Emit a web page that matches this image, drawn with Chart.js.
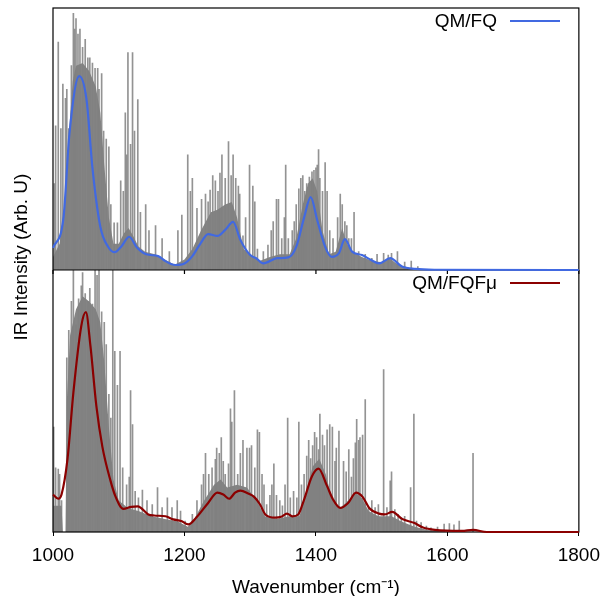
<!DOCTYPE html>
<html>
<head>
<meta charset="utf-8">
<script src="https://cdn.jsdelivr.net/npm/chart.js@4.4.1/dist/chart.umd.min.js"></script>
<style>
  html, body { margin: 0; padding: 0; background: #fff; }
  #wrap { width: 608px; height: 596px; }
</style>
</head>
<body>
<div id="wrap"><canvas id="irChart" width="608" height="596"></canvas></div>
<script>
// x axis
var xTicks = [1000, 1200, 1400, 1600, 1800];

// QM/FQ (top panel) - stick spectrum
var fqStickWn = [1002, 1004, 1008, 1012, 1015, 1019, 1021, 1024, 1028, 1031, 1033, 1035, 1038, 1041, 1045, 1049,
  1053, 1056, 1060, 1064, 1068, 1070, 1074, 1077, 1081, 1085, 1088, 1093, 1098, 1103, 1107, 1110, 1112, 1114,
  1118, 1121, 1124, 1129, 1133, 1141, 1146, 1156, 1166, 1177, 1190, 1196, 1205, 1209, 1212, 1219, 1226, 1232,
  1236, 1239, 1243, 1247, 1251, 1254, 1257, 1262, 1267, 1271, 1274, 1278, 1282, 1284, 1289, 1293, 1299, 1304,
  1307, 1311, 1320, 1327, 1332, 1335, 1340, 1343, 1348, 1352, 1354, 1358, 1364, 1367, 1370, 1374, 1377, 1380,
  1383, 1386, 1390, 1394, 1397, 1400, 1402, 1404, 1406, 1410, 1414, 1417, 1421, 1426, 1433, 1437, 1440, 1444,
  1447, 1450, 1454, 1458, 1465, 1475, 1485, 1493, 1503, 1510, 1515, 1524, 1535, 1545, 1555];
var fqStickInt = [0.33, 0.55, 0.87, 0.54, 0.71, 0.655, 0.69, 0.54, 0.78, 0.98, 0.92, 0.96, 0.90, 0.92, 0.85, 0.88,
  0.81, 0.81, 0.79, 0.77, 0.77, 0.69, 0.75, 0.53, 0.50, 0.47, 0.25, 0.18, 0.18, 0.34, 0.30, 0.60, 0.44, 0.83,
  0.48, 0.83, 0.53, 0.65, 0.22, 0.25, 0.15, 0.17, 0.12, 0.07, 0.15, 0.21, 0.44, 0.30, 0.35, 0.235, 0.27, 0.29,
  0.26, 0.305, 0.36, 0.34, 0.30, 0.37, 0.44, 0.35, 0.49, 0.36, 0.44, 0.35, 0.32, 0.29, 0.13, 0.20, 0.40, 0.32,
  0.26, 0.08, 0.07, 0.095, 0.15, 0.185, 0.27, 0.27, 0.12, 0.20, 0.40, 0.12, 0.15, 0.185, 0.25, 0.31, 0.35, 0.36,
  0.30, 0.33, 0.355, 0.375, 0.38, 0.39, 0.40, 0.46, 0.35, 0.30, 0.41, 0.30, 0.15, 0.12, 0.20, 0.29, 0.25, 0.185,
  0.17, 0.12, 0.12, 0.22, 0.07, 0.06, 0.045, 0.06, 0.064, 0.057, 0.064, 0.07, 0.03, 0.034, 0.013];

// QM/FQ - dense part of the sticks
var fqBodyWn = [1000, 1010, 1020, 1025, 1030, 1035, 1045, 1055, 1065, 1072, 1078, 1085, 1092, 1100, 1108, 1115,
  1122, 1130, 1140, 1155, 1170, 1185, 1200, 1212, 1225, 1240, 1250, 1262, 1272, 1280, 1290, 1300, 1315, 1330,
  1345, 1360, 1370, 1380, 1388, 1395, 1402, 1410, 1420, 1430, 1440, 1447, 1455, 1470, 1485, 1500, 1512, 1525,
  1540, 1555];
var fqBodyInt = [0.05, 0.1, 0.3, 0.55, 0.72, 0.78, 0.79, 0.76, 0.70, 0.6, 0.4, 0.2, 0.1, 0.1, 0.14, 0.16,
  0.13, 0.09, 0.07, 0.06, 0.04, 0.02, 0.04, 0.08, 0.15, 0.22, 0.23, 0.25, 0.26, 0.2, 0.08, 0.06, 0.035, 0.05,
  0.06, 0.06, 0.12, 0.25, 0.33, 0.35, 0.3, 0.15, 0.06, 0.07, 0.16, 0.1, 0.07, 0.05, 0.035, 0.03, 0.045, 0.02,
  0.01, 0];

// QM/FQ - broadened spectrum
var fqCurveWn = [1000, 1016, 1025, 1040, 1051, 1060, 1072, 1084, 1094, 1104, 1116, 1127, 1142, 1160, 1171, 1186,
  1200, 1212, 1224, 1236, 1250, 1262, 1274, 1285, 1300, 1309, 1320, 1341, 1358, 1370, 1382, 1392, 1402, 1414,
  1424, 1435, 1444, 1455, 1470, 1484, 1496, 1513, 1531, 1551, 1580, 1800];
var fqCurveInt = [0.084, 0.20, 0.52, 0.74, 0.65, 0.39, 0.165, 0.088, 0.068, 0.09, 0.127, 0.088, 0.06, 0.053, 0.034, 0.019,
  0.025, 0.053, 0.10, 0.137, 0.13, 0.153, 0.184, 0.115, 0.057, 0.045, 0.025, 0.045, 0.048, 0.088, 0.20, 0.278, 0.19, 0.088,
  0.05, 0.064, 0.118, 0.07, 0.057, 0.038, 0.025, 0.045, 0.013, 0.004, 0.001, 0];

// QM/FQFmu (bottom panel) - stick spectrum
var fqfmuStickWn = [1001, 1004, 1008, 1010, 1013, 1021, 1024, 1028, 1031, 1035, 1039, 1043, 1045, 1049, 1053, 1056,
  1060, 1064, 1067, 1070, 1074, 1078, 1081, 1085, 1088, 1091, 1094, 1098, 1102, 1106, 1112, 1116, 1118, 1121,
  1125, 1130, 1136, 1143, 1151, 1159, 1166, 1174, 1181, 1189, 1194, 1201, 1212, 1219, 1226, 1229, 1232, 1237,
  1242, 1247, 1249, 1253, 1256, 1259, 1262, 1267, 1270, 1272, 1276, 1281, 1285, 1289, 1295, 1299, 1302, 1307,
  1311, 1314, 1318, 1321, 1325, 1330, 1333, 1336, 1340, 1345, 1349, 1353, 1357, 1361, 1366, 1371, 1374, 1378,
  1382, 1386, 1389, 1392, 1395, 1398, 1401, 1404, 1406, 1410, 1413, 1417, 1421, 1425, 1429, 1431, 1435, 1442,
  1446, 1450, 1454, 1457, 1460, 1462, 1465, 1467, 1471, 1475, 1480, 1485, 1490, 1495, 1503, 1508, 1513, 1515,
  1520, 1525, 1530, 1535, 1544, 1549, 1553, 1560, 1568, 1575, 1585, 1595, 1603, 1610, 1618, 1639];
var fqfmuStickInt = [0.40, 0.245, 0.24, 0.22, 0.12, 0.665, 0.77, 0.88, 1.0, 0.79, 0.89, 0.94, 0.99, 0.91, 0.88, 0.93,
  0.87, 1.0, 0.98, 1.0, 0.84, 0.80, 0.715, 0.525, 0.435, 1.0, 0.69, 0.56, 0.69, 0.245, 0.18, 0.21, 0.54, 0.41,
  0.155, 0.13, 0.16, 0.12, 0.105, 0.17, 0.093, 0.13, 0.093, 0.12, 0.08, 0.042, 0.067, 0.12, 0.18, 0.22, 0.30, 0.22,
  0.245, 0.277, 0.32, 0.30, 0.36, 0.27, 0.22, 0.26, 0.47, 0.42, 0.54, 0.22, 0.30, 0.35, 0.32, 0.32, 0.33, 0.245,
  0.39, 0.38, 0.22, 0.18, 0.105, 0.14, 0.18, 0.26, 0.14, 0.12, 0.10, 0.18, 0.435, 0.13, 0.155, 0.13, 0.42, 0.18,
  0.22, 0.29, 0.35, 0.28, 0.33, 0.38, 0.36, 0.315, 0.45, 0.37, 0.33, 0.39, 0.41, 0.40, 0.27, 0.32, 0.385, 0.27,
  0.23, 0.315, 0.21, 0.28, 0.34, 0.43, 0.35, 0.36, 0.37, 0.505, 0.093, 0.12, 0.093, 0.105, 0.62, 0.093, 0.195, 0.23,
  0.086, 0.067, 0.055, 0.06, 0.17, 0.45, 0.042, 0.036, 0.023, 0.016, 0.019, 0.03, 0.032, 0.027, 0.042, 0.30];

// QM/FQFmu - dense part of the sticks
var fqfmuBodyWn = [1000, 1013, 1015, 1019, 1021, 1026, 1035, 1045, 1055, 1065, 1072, 1078, 1085, 1092, 1100, 1115,
  1130, 1150, 1170, 1190, 1205, 1215, 1230, 1245, 1255, 1265, 1280, 1295, 1310, 1322, 1340, 1360, 1375, 1385,
  1395, 1405, 1415, 1425, 1435, 1445, 1460, 1470, 1480, 1495, 1515, 1530, 1550, 1570, 1590, 1600];
var fqfmuBodyInt = [0.1, 0.1, 0, 0, 0.5, 0.75, 0.85, 0.9, 0.88, 0.85, 0.8, 0.65, 0.4, 0.2, 0.12, 0.09,
  0.08, 0.06, 0.05, 0.04, 0.02, 0.05, 0.12, 0.18, 0.2, 0.17, 0.18, 0.17, 0.12, 0.06, 0.05, 0.06, 0.06, 0.15,
  0.25, 0.28, 0.22, 0.12, 0.09, 0.11, 0.15, 0.13, 0.08, 0.06, 0.06, 0.04, 0.02, 0.008, 0.005, 0];

// QM/FQFmu - broadened spectrum
var fqfmuCurveWn = [1000, 1008, 1013, 1022, 1031, 1043, 1050, 1057, 1066, 1075, 1087, 1095, 1107, 1119, 1129, 1145,
  1154, 1171, 1183, 1195, 1206, 1218, 1236, 1250, 1259, 1268, 1277, 1285, 1297, 1306, 1315, 1323, 1338, 1347,
  1356, 1364, 1373, 1382, 1394, 1404, 1417, 1426, 1437, 1449, 1461, 1471, 1481, 1496, 1505, 1516, 1531, 1549,
  1563, 1581, 1622, 1639, 1660, 1800];
var fqfmuCurveInt = [0.143, 0.127, 0.143, 0.277, 0.532, 0.786, 0.839, 0.709, 0.48, 0.327, 0.20, 0.136, 0.088, 0.096, 0.098, 0.067,
  0.063, 0.06, 0.048, 0.042, 0.029, 0.055, 0.111, 0.15, 0.143, 0.127, 0.15, 0.158, 0.147, 0.134, 0.105, 0.067, 0.055, 0.058,
  0.07, 0.06, 0.067, 0.124, 0.213, 0.242, 0.175, 0.124, 0.092, 0.111, 0.15, 0.134, 0.092, 0.07, 0.067, 0.077, 0.05, 0.035,
  0.017, 0.008, 0.004, 0.008, 0, 0];

var fontFamily = '"Liberation Sans", Arial, Helvetica, sans-serif';

function pts(xs, ys) {
  return xs.map(function(x, i) { return { x: x, y: ys[i] }; });
}

// frame, legend entries and the shared y title
var panelDeco = {
  id: 'panelDeco',
  beforeDraw: function(chart) { chart.$frameDone = false; },
  beforeDatasetDraw: function(chart, args) {
    var ds = chart.data.datasets[args.index];
    if (ds.isCurve && !chart.$frameDone) {
      chart.$frameDone = true;
      var ctx = chart.ctx, a = chart.chartArea;
      var x = chart.scales.x, sep = chart.scales.yTop.bottom;
      ctx.save();
      ctx.strokeStyle = '#000';
      ctx.lineWidth = 1.2;
      ctx.strokeRect(a.left, a.top, a.right - a.left, a.bottom - a.top);
      ctx.beginPath();
      ctx.moveTo(a.left, sep);
      ctx.lineTo(a.right, sep);
      xTicks.forEach(function(v) {
        var px = x.getPixelForValue(v);
        ctx.moveTo(px, sep);
        ctx.lineTo(px, sep + 4);
      });
      ctx.stroke();
      ctx.restore();
    }
  },
  afterDatasetsDraw: function(chart) {
    var ctx = chart.ctx;
    ctx.save();
    ctx.font = '19px ' + fontFamily;
    ctx.fillStyle = '#000';
    ctx.textAlign = 'right';
    ctx.textBaseline = 'middle';
    chart.data.datasets.forEach(function(ds) {
      if (!ds.isCurve) return;
      var sc = chart.scales[ds.yAxisID];
      var y = sc.top + 13;
      ctx.fillText(ds.label, 497, y + 1);
      ctx.strokeStyle = ds.borderColor;
      ctx.lineWidth = 2.2;
      ctx.beginPath();
      ctx.moveTo(510, y);
      ctx.lineTo(560, y);
      ctx.stroke();
    });
    ctx.translate(22, 257);
    ctx.rotate(-Math.PI / 2);
    ctx.textAlign = 'center';
    ctx.fillText('IR Intensity (Arb. U)', 0, 0);
    ctx.restore();
  }
};

function yPanel() {
  return {
    type: 'linear', position: 'left', stack: 'ir', stackWeight: 1,
    min: 0, max: 1,
    grid: { display: false }, ticks: { display: false }, border: { display: false },
    afterFit: function(s) { s.width = 0; }
  };
}

new Chart(document.getElementById('irChart'), {
  type: 'bar',
  data: {
    datasets: [
      { type: 'line', label: 'QM/FQ', isCurve: true, data: pts(fqCurveWn, fqCurveInt), yAxisID: 'yTop',
        borderColor: '#4169e1', borderWidth: 2.2, pointRadius: 0, cubicInterpolationMode: 'monotone', order: 0, clip: 4 },
      { type: 'line', label: 'QM/FQF\u03bc', isCurve: true, data: pts(fqfmuCurveWn, fqfmuCurveInt), yAxisID: 'yBot',
        borderColor: '#8b0000', borderWidth: 2.2, pointRadius: 0, cubicInterpolationMode: 'monotone', order: 0, clip: 4 },
      { label: 'fq sticks', data: pts(fqStickWn, fqStickInt), yAxisID: 'yTop',
        backgroundColor: 'rgba(128,128,128,0.85)', barThickness: 1, grouped: false, order: 1 },
      { label: 'fqfmu sticks', data: pts(fqfmuStickWn, fqfmuStickInt), yAxisID: 'yBot',
        backgroundColor: 'rgba(128,128,128,0.85)', barThickness: 1, grouped: false, order: 1 },
      { type: 'line', label: 'fq body', data: pts(fqBodyWn, fqBodyInt), yAxisID: 'yTop',
        borderWidth: 0, pointRadius: 0, fill: 'origin', backgroundColor: '#858585', order: 2 },
      { type: 'line', label: 'fqfmu body', data: pts(fqfmuBodyWn, fqfmuBodyInt), yAxisID: 'yBot',
        borderWidth: 0, pointRadius: 0, fill: 'origin', backgroundColor: '#858585', order: 2 }
    ]
  },
  options: {
    responsive: false,
    animation: false,
    devicePixelRatio: 1,
    layout: { padding: { left: 53, right: 25, top: 8, bottom: 0 } },
    plugins: { legend: { display: false }, tooltip: { enabled: false } },
    scales: {
      x: {
        type: 'linear', min: 1000, max: 1800, offset: false,
        afterBuildTicks: function(s) { s.ticks = xTicks.map(function(v) { return { value: v }; }); },
        grid: { drawOnChartArea: false, offset: false, tickLength: 4, color: '#000' },
        border: { display: false },
        ticks: { font: { family: fontFamily, size: 19 }, color: '#000', padding: 8, maxRotation: 0,
          callback: function(v) { return String(v); } },
        title: { display: true, text: 'Wavenumber (cm\u207b\u00b9)', font: { family: fontFamily, size: 19 },
          color: '#000', padding: { top: 0, bottom: -3 } },
        afterFit: function(s) { s.height = 64; }
      },
      // the stack is laid out bottom-first, so the lower panel comes first
      yBot: yPanel(),
      yTop: yPanel()
    }
  },
  plugins: [panelDeco]
});
</script>
</body>
</html>
